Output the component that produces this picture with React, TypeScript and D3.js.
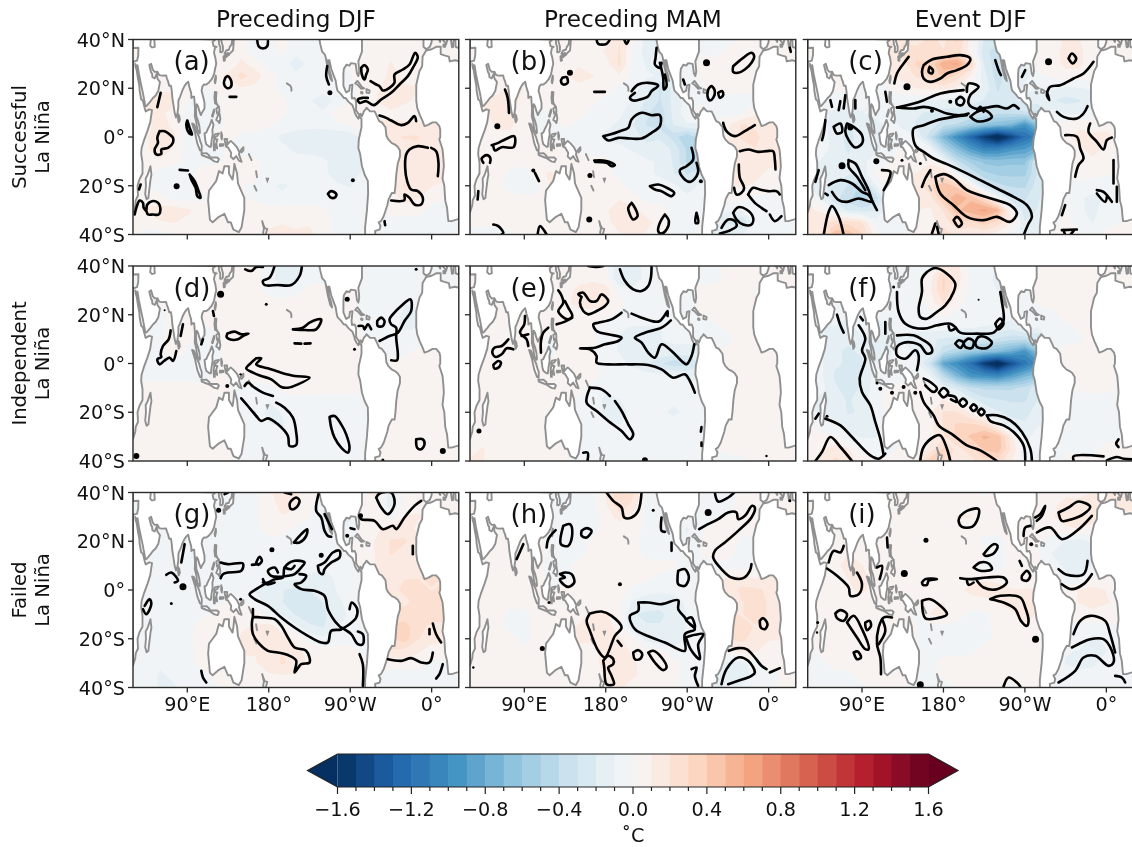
import React from 'react';
import * as d3 from 'd3';

// ---------- anomalies, in hundredths of a degree C; rows 40N..40S every 5 deg, columns 30E..390E every 15 deg; 0 = land / no data
const fieldA = [
[0,0,0,0,0,0,0,0,3,-8,-3,6,-4,-6,0,0,0,0,3,4,2,0,0,0,0],
[0,0,0,0,0,0,0,0,5,-5,-5,2,-6,-5,-3,0,0,2,4,6,4,0,0,0,0],
[0,0,0,0,0,0,0,3,8,4,-3,-5,-8,-6,-3,-1,0,4,5,7,4,0,0,0,0],
[0,0,0,0,0,0,0,8,16,10,3,-2,-6,-5,-3,-2,0,0,4,8,6,0,0,0,0],
[0,0,6,6,0,0,0,3,6,5,2,-2,-3,-4,-4,-3,0,0,6,10,7,0,0,0,0],
[0,0,8,8,0,-4,0,2,4,4,2,1,-2,-6,-10,-5,-2,0,7,12,8,0,0,0,0],
[0,0,7,6,-3,-6,-3,2,3,3,1,1,-2,-5,-6,4,6,3,5,5,4,2,0,0,0],
[0,4,10,5,-4,-6,-2,1,2,2,1,-2,-3,-4,-5,-2,1,0,8,8,8,8,0,0,0],
[0,6,12,8,-3,-5,1,1,-1,-2,-4,-8,-11,-12,-10,-12,-12,0,0,12,14,14,8,0,0],
[0,6,10,6,-3,-6,-3,1,-2,-3,-4,-5,-8,-8,-8,-8,-10,0,0,0,10,12,10,0,0],
[0,4,6,3,-2,-3,-2,1,2,1,-2,-3,-4,-5,-6,-8,-9,-8,0,0,8,10,10,0,0],
[0,0,-4,-6,-4,4,6,0,0,2,-3,-2,-3,-5,-6,-8,-8,-6,0,0,10,8,7,0,0],
[0,0,-3,-6,-5,1,6,0,0,-1,-5,-8,-5,-4,-5,-6,-7,-4,0,0,14,10,7,0,0],
[0,3,2,-2,-3,-2,2,0,0,-1,-3,-5,-3,-3,-3,-4,-5,-3,0,2,10,7,3,0,0],
[0,8,10,10,8,5,3,0,0,3,2,2,2,2,1,-2,-3,-2,0,2,3,3,-3,-3,0],
[0,3,6,7,5,4,3,0,0,3,5,6,5,6,3,-2,-3,-2,0,-2,-3,-3,-3,-3,0],
[0,-3,-3,2,3,3,3,0,0,3,8,10,8,8,4,-2,-3,0,0,-2,-3,-6,-8,-3,0],
];
const fieldB = [
[0,0,0,0,0,0,0,0,6,4,6,14,5,-10,-10,0,0,0,-3,-3,0,0,0,0,0],
[0,0,0,0,0,0,0,0,6,2,8,15,-2,-10,-5,0,0,0,-3,3,2,0,0,0,0],
[0,0,0,0,0,0,0,0,5,2,4,16,-2,-8,-5,-2,0,0,4,5,3,0,0,0,0],
[0,0,0,0,0,0,0,6,12,8,3,6,-2,-6,-8,-3,0,0,4,5,3,0,0,0,0],
[0,0,6,8,0,0,0,4,3,3,2,-2,-3,-12,-22,-12,-5,0,3,3,2,0,0,0,0],
[0,0,8,10,0,3,0,2,3,2,-2,-3,-8,-15,-22,-12,-5,0,-2,-3,-3,0,0,0,0],
[0,0,8,8,4,-2,0,2,3,-2,-3,-6,-10,-20,-26,-12,-2,3,-2,-4,-2,0,0,0,0],
[0,4,8,8,4,-2,-2,1,-2,-4,-6,-8,-14,-22,-25,-14,-8,0,0,6,15,12,0,0,0],
[0,4,6,6,3,3,0,-2,-3,-6,-8,-10,-12,-16,-15,-25,-35,0,0,6,16,18,8,0,0],
[0,3,4,4,2,3,2,0,-2,-4,-4,-5,-8,-12,-12,-15,-30,0,0,0,8,14,10,0,0],
[0,3,2,3,3,3,2,2,4,3,2,-2,-4,-6,-8,-15,-30,-30,0,0,10,14,10,0,0],
[0,0,3,-2,-5,6,8,0,0,1,2,-2,-3,-6,-8,-14,-22,-15,0,0,12,10,5,0,0],
[0,0,3,-4,-5,-3,8,0,0,2,3,2,-3,-6,-5,-6,-10,-6,0,0,8,6,3,0,0],
[0,0,6,3,2,1,4,0,0,3,5,6,2,-2,-3,-4,-6,-4,0,2,3,-2,-2,0,0],
[0,5,6,5,4,3,2,0,0,3,6,12,10,3,3,-2,-5,-2,0,-6,-6,-4,-3,0,0],
[0,3,3,3,3,2,1,0,0,2,4,12,12,10,4,-2,-3,0,0,-15,-22,-5,-3,0,0],
[0,-6,-4,-2,3,3,1,0,0,2,4,6,10,6,1,-3,-3,0,0,-8,-8,-3,-3,-2,0],
];
const fieldC = [
[0,0,0,0,0,0,0,0,12,22,16,30,6,-20,-25,0,0,0,8,10,10,3,0,0,0],
[0,0,0,0,0,0,0,0,25,20,20,25,5,-25,-35,0,0,0,6,12,12,3,0,0,0],
[0,0,0,0,0,0,0,15,30,30,55,60,30,-20,-35,-10,0,0,5,12,12,3,0,0,0],
[0,0,0,0,0,0,0,12,20,30,40,25,8,-15,-35,-18,0,0,1,6,5,0,0,0,0],
[0,0,5,1,-4,0,0,5,10,12,12,8,1,-12,-30,-20,-6,0,-8,-12,-10,0,0,0,0],
[0,0,-8,-8,-5,-10,0,-5,-8,-10,-12,-15,-15,-20,-25,-22,-15,0,-18,-22,-20,0,0,0,0],
[0,0,-10,-12,-10,-5,-8,-14,-18,-20,-22,-22,-25,-28,-35,-35,-30,0,-5,-12,-12,0,0,0,0],
[0,-5,-15,-20,-15,-15,-5,-12,-20,-22,-35,-40,-50,-60,-65,-70,-90,0,0,5,8,5,0,0,0],
[0,-3,-15,-22,-15,-15,0,-5,-8,-35,-70,-95,-120,-145,-165,-140,-115,0,0,0,12,12,10,0,0],
[0,-3,-15,-20,-15,-12,0,3,1,-5,-40,-65,-85,-100,-100,-90,-85,0,0,0,8,12,8,0,0],
[0,0,-15,-18,-12,-5,0,3,5,8,-5,-35,-50,-60,-62,-60,-60,-20,0,0,5,8,5,0,0],
[0,0,-10,-18,-15,1,5,0,10,15,20,-5,-30,-45,-50,-50,-50,-25,0,0,3,3,1,0,0],
[0,0,-20,-30,-40,-10,3,0,0,25,45,35,8,-25,-35,-40,-40,-22,0,0,-3,-5,-5,0,0],
[0,0,-25,-35,-45,-35,-5,0,0,15,40,55,45,25,-5,-25,-30,-20,0,-3,-8,-12,-8,0,0],
[0,8,-10,-20,-25,-20,-5,0,0,8,20,45,55,60,50,1,-25,-18,0,1,-8,-12,-5,0,0],
[0,15,25,25,20,-5,-5,0,0,5,15,25,25,35,25,10,-18,-15,0,5,-5,-10,-3,0,0],
[0,20,45,45,30,5,-5,0,0,10,25,15,10,10,5,-5,-12,0,0,5,1,-5,3,3,0],
];
const fieldD = [
[0,0,0,0,0,0,0,0,2,2,-3,-14,-10,-2,-2,0,0,0,-3,-3,-2,0,0,0,0],
[0,0,0,0,0,0,0,0,2,2,-3,-15,-10,-2,-2,0,0,0,-3,-3,-3,0,0,0,0],
[0,0,0,0,0,0,0,3,3,2,-2,-4,-2,2,2,1,0,0,-3,-3,-4,0,0,0,0],
[0,0,0,0,0,0,0,3,4,3,2,2,2,2,2,2,0,0,-3,-3,-8,0,0,0,0],
[0,0,-2,2,0,0,0,3,4,4,3,3,2,2,2,2,0,0,-3,-4,-10,0,0,0,0],
[0,0,-2,3,0,0,0,3,4,5,4,3,2,2,2,2,2,0,-4,-6,-10,0,0,0,0],
[0,0,-2,5,2,-2,-3,3,4,5,4,2,3,3,2,3,3,0,-3,-6,-5,0,0,0,0],
[0,-2,-2,8,-2,-2,-2,2,3,3,3,3,3,3,5,5,4,0,0,-3,-3,2,0,0,0],
[0,-2,-2,-2,-2,-2,0,1,2,3,6,6,6,7,7,7,3,0,0,3,3,2,2,0,0],
[0,-2,-2,-2,-2,-2,0,0,1,3,7,8,5,5,5,5,2,0,0,0,2,2,2,0,0],
[0,2,2,2,2,2,2,0,-2,-3,-3,3,3,2,2,2,2,0,0,0,2,2,2,0,0],
[0,0,3,5,2,2,3,0,0,-8,-8,-4,-2,-2,-2,-2,-2,0,0,0,2,2,2,0,0],
[0,0,2,2,2,2,3,0,0,-5,-10,-8,-3,-2,-2,-2,-2,-2,0,0,3,3,2,0,0],
[0,0,3,2,2,2,3,0,0,-3,-8,-9,-3,-2,-3,-2,-2,-2,0,0,3,3,2,0,0],
[0,2,3,2,2,2,2,0,0,-2,-3,-7,-3,-2,-3,-3,-2,-2,0,2,3,3,2,0,0],
[0,2,3,2,2,2,2,0,0,-2,-2,-4,-2,-2,-3,-3,-2,0,0,2,3,3,3,0,0],
[0,2,3,2,2,2,2,0,0,-2,-2,-2,-2,-2,-3,-2,-2,0,0,2,3,3,2,2,0],
];
const fieldE = [
[0,0,0,0,0,0,0,0,3,5,2,-15,-15,-3,-2,0,0,0,-2,2,2,0,0,0,0],
[0,0,0,0,0,0,0,0,4,6,2,-15,-15,-3,-2,0,0,0,-2,2,2,0,0,0,0],
[0,0,0,0,0,0,0,4,10,12,12,-3,-5,-3,-2,0,0,0,2,2,2,0,0,0,0],
[0,0,0,0,0,0,0,6,10,12,10,2,-2,-3,-3,-2,0,0,2,2,2,0,0,0,0],
[0,0,2,3,0,0,0,5,5,4,3,-2,-2,-3,-3,-2,0,0,2,2,2,0,0,0,0],
[0,0,2,3,0,3,0,3,3,3,-6,-7,-8,-8,-8,-4,0,0,-2,2,2,0,0,0,0],
[0,0,3,4,2,2,-2,3,3,3,-6,-8,-8,-8,-8,-6,-6,0,-2,-2,2,0,0,0,0],
[0,2,3,3,2,2,-2,2,3,3,-6,-8,-10,-10,-8,-10,-10,0,0,2,3,2,0,0,0],
[0,2,3,3,2,2,0,2,2,2,-3,-5,-10,-14,-22,-28,-26,0,0,2,3,3,2,0,0],
[0,2,3,2,2,2,2,0,2,2,-2,-2,-3,-5,-5,-6,-10,0,0,0,2,3,3,0,0],
[0,2,2,2,2,3,3,0,2,-2,-6,-3,-2,-2,-3,-4,-4,-3,0,0,2,2,2,0,0],
[0,0,2,2,3,3,3,0,0,-2,-10,-8,-3,-2,-4,-6,-5,-3,0,0,2,2,2,0,0],
[0,0,2,2,2,3,3,0,0,-2,-10,-12,-5,-3,-5,-10,-5,-3,0,0,2,2,2,0,0],
[0,0,3,2,2,2,3,0,0,-2,-3,-8,-3,-2,-3,-3,-3,-3,0,0,2,2,2,0,0],
[0,3,3,2,2,2,2,0,0,-2,-2,-3,-2,-2,-3,-3,-2,-2,0,0,2,2,2,0,0],
[0,8,3,2,2,2,2,0,0,-2,-2,-2,-2,-2,-2,-2,-2,0,0,2,2,2,2,0,0],
[0,8,3,2,2,2,2,0,0,-2,-2,-2,-2,-2,-2,-2,-2,0,0,-2,-2,2,2,2,0],
];
const fieldF = [
[0,0,0,0,0,0,0,0,-3,-3,15,12,-3,-5,-10,0,0,0,2,3,2,0,0,0,0],
[0,0,0,0,0,0,0,0,-3,5,30,15,-3,-6,-12,0,0,0,3,3,3,0,0,0,0],
[0,0,0,0,0,0,0,-2,-3,8,30,10,-3,-6,-10,-5,0,0,3,3,3,0,0,0,0],
[0,0,0,0,0,0,0,-2,-4,4,20,3,-3,-4,-5,-5,0,0,2,3,3,0,0,0,0],
[0,0,-5,-8,-3,0,0,-2,-4,-3,3,-2,-3,-4,-4,-5,0,0,-2,3,3,0,0,0,0],
[0,0,-10,-14,-3,-15,0,-3,-5,-5,-5,-8,-8,-10,-12,-15,-5,0,-2,-2,1,0,0,0,0],
[0,0,-15,-18,-12,-18,-15,-10,-15,-18,-20,-22,-22,-25,-30,-35,-35,0,-2,-2,-1,0,0,0,0],
[0,-8,-18,-20,-18,-18,-12,-5,-12,-12,-35,-45,-55,-60,-65,-75,-90,0,0,2,2,2,0,0,0],
[0,-8,-18,-20,-20,-8,0,-2,-8,-30,-80,-95,-115,-145,-165,-135,-110,0,0,0,2,3,2,0,0],
[0,-8,-20,-22,-20,-5,0,0,1,-8,-40,-70,-90,-95,-100,-85,-70,0,0,0,2,3,2,0,0],
[0,-6,-18,-22,-18,-4,1,0,1,1,-12,-22,-35,-40,-40,-40,-35,-20,0,0,1,2,1,0,0],
[0,0,-15,-20,-15,-2,2,0,2,5,10,1,-15,-25,-28,-30,-30,-18,0,0,-2,-2,-2,0,0],
[0,0,-12,-20,-18,-4,2,0,0,8,20,20,8,-8,-18,-22,-22,-15,0,0,-2,-2,-2,0,0],
[0,0,-8,-15,-18,-12,2,0,0,6,20,30,30,25,1,-15,-18,-10,0,0,-2,-2,-2,0,0],
[0,2,1,-8,-10,-10,-2,0,0,6,18,32,40,50,45,12,-12,-6,0,0,-2,-2,-2,0,0],
[0,8,14,10,-3,-5,-2,0,2,12,30,15,25,40,45,18,-6,-6,0,0,-2,-2,2,0,0],
[0,10,22,15,5,2,1,0,10,35,30,10,15,25,25,10,-3,0,0,0,3,2,3,3,0],
];
const fieldG = [
[0,0,0,0,0,0,0,0,-3,-3,6,10,8,3,-3,0,0,0,8,-12,3,5,0,0,0],
[0,0,0,0,0,0,0,0,-5,-2,6,8,8,2,-5,0,0,0,6,-14,3,5,0,0,0],
[0,0,0,0,0,0,0,-3,-5,-2,7,7,5,1,-10,-8,0,0,6,-3,8,8,0,0,0],
[0,0,0,0,0,0,0,-3,-5,-3,3,4,-2,-4,-8,-8,0,0,6,10,12,5,0,0,0],
[0,0,-4,-3,0,0,0,-3,-5,-3,-2,-3,-3,-5,-6,-4,-3,0,8,15,15,0,0,0,0],
[0,0,-4,-3,0,-3,0,-3,-5,-4,-4,-4,-4,-5,-6,-4,3,0,8,15,12,0,0,0,0],
[0,0,-4,-3,-3,-3,-3,-3,-3,-3,-4,-4,-5,-5,-6,-4,-3,0,8,10,12,0,0,0,0],
[0,-3,-3,-3,-3,-3,-3,-3,-3,-3,-4,-5,-5,-8,-10,-6,-5,0,0,10,14,14,0,0,0],
[0,-4,-4,-3,-3,-3,0,-2,-3,-8,-12,-14,-16,-14,-12,-7,-5,0,0,12,16,18,14,0,0],
[0,-4,-4,-4,-3,-3,0,0,1,-3,-10,-14,-20,-20,-14,-8,-6,0,0,0,12,18,18,0,0],
[0,-4,-4,-4,-3,-3,3,0,3,3,-2,-8,-15,-18,-16,-10,-6,-5,0,0,18,16,18,0,0],
[0,0,-5,-5,-3,3,3,0,0,8,10,4,-5,-13,-15,-8,-5,-4,0,0,24,18,12,0,0],
[0,0,-4,-3,-2,3,3,0,0,10,12,10,5,-3,-5,-3,-3,-2,0,0,25,15,10,0,0],
[0,0,-4,-3,-2,2,2,0,0,8,12,14,10,4,3,2,3,-2,0,0,12,8,4,0,0],
[0,-4,-6,-5,-3,2,2,0,0,6,12,15,12,6,6,5,4,3,0,0,4,4,-2,0,0],
[0,-4,-8,-6,-3,-3,2,0,0,3,6,7,6,7,6,5,4,3,0,-3,-3,-3,-3,0,0],
[0,-4,-8,-8,-4,-4,-2,0,0,3,5,6,6,6,5,4,4,0,0,-3,-3,-3,-3,-3,0],
];
const fieldH = [
[0,0,0,0,0,0,0,0,-3,-2,8,20,16,-2,-2,0,0,0,-3,-6,3,3,0,0,0],
[0,0,0,0,0,0,0,0,-4,-3,6,20,12,-2,-2,0,0,0,-3,-5,4,3,0,0,0],
[0,0,0,0,0,0,0,-4,-6,-4,3,10,5,-2,-2,-2,0,0,-3,3,5,3,0,0,0],
[0,0,0,0,0,0,0,-4,-7,-4,3,3,3,-2,-3,-3,-8,0,3,6,3,0,0,0,0],
[0,0,3,3,0,0,0,-3,-3,2,2,3,2,-2,-3,-3,-6,0,6,8,-3,0,0,0,0],
[0,0,3,3,0,2,0,-2,-2,2,2,3,2,-2,-2,-3,-2,0,8,3,-3,0,0,0,0],
[0,0,3,2,2,2,-2,-2,2,2,3,3,2,2,2,2,-4,0,-2,-3,-4,0,0,0,0],
[0,2,2,2,2,2,-2,-3,2,2,3,3,3,2,-2,-3,-6,0,0,8,10,6,0,0,0],
[0,2,2,2,2,2,0,2,2,3,3,3,-2,-4,-5,-4,-5,0,0,10,16,16,0,0,0],
[0,3,2,2,2,2,0,0,2,3,3,2,-8,-12,-13,-12,-5,0,0,0,14,16,14,0,0],
[0,3,2,-2,-2,3,3,0,3,10,8,3,-14,-15,-15,-13,-7,-3,0,0,14,16,14,0,0],
[0,0,2,-2,-3,3,3,0,0,12,10,4,-14,-14,-14,-14,-6,-3,0,0,16,14,10,0,0],
[0,0,2,2,-3,3,3,0,0,8,10,8,3,-10,-14,-12,-6,-3,0,0,16,12,8,0,0],
[0,0,2,2,2,2,2,0,0,5,10,10,6,3,3,-5,-3,-3,0,0,10,8,4,0,0],
[0,2,2,2,2,2,2,0,0,4,10,10,8,5,3,3,-3,-3,0,-8,-10,-3,2,0,0],
[0,2,2,2,2,2,2,0,0,3,8,10,8,5,3,2,-3,0,0,-12,-14,-3,-2,0,0],
[0,2,2,2,2,2,2,0,0,3,6,8,5,3,2,2,-3,0,0,-6,-6,-2,-2,2,0],
];
const fieldI = [
[0,0,0,0,0,0,0,0,2,3,4,4,5,-2,3,0,0,0,5,6,4,0,0,0,0],
[0,0,0,0,0,0,0,0,3,3,5,6,6,2,3,0,0,0,6,10,12,0,0,0,0],
[0,0,0,0,0,0,0,2,4,4,5,8,8,3,3,2,0,0,6,15,15,0,0,0,0],
[0,0,0,0,0,0,0,2,6,3,3,6,4,2,3,2,3,0,4,5,8,0,0,0,0],
[0,0,2,6,0,0,0,2,3,3,3,3,3,-2,-3,2,3,0,-3,-8,-12,0,0,0,0],
[0,0,3,8,2,3,0,2,3,3,2,3,3,3,-3,2,5,0,-8,-14,-12,0,0,0,0],
[0,0,6,10,8,3,3,2,3,3,3,3,3,-5,-6,3,5,0,-3,-10,-10,0,0,0,0],
[0,3,5,8,10,5,3,2,3,3,3,3,5,6,6,5,5,0,0,-5,-8,2,0,0,0],
[0,3,4,6,10,3,2,2,3,3,5,5,10,12,10,8,8,0,0,5,8,10,0,0,0],
[0,3,3,3,3,3,0,0,3,5,8,3,4,5,8,14,12,0,0,0,8,10,8,0,0],
[0,3,3,4,4,3,3,0,-2,8,10,3,-2,-2,3,5,14,5,0,0,3,6,6,0,0],
[0,0,3,6,6,3,5,0,0,-2,-2,-2,-2,-2,2,4,8,5,0,0,-2,-3,-3,0,0],
[0,0,2,3,5,3,4,0,0,-2,-3,-2,-2,-3,2,3,5,5,0,0,-3,-10,-5,0,0],
[0,0,3,3,4,3,3,0,0,-2,-2,-2,-2,3,3,3,3,3,0,0,-8,-15,-8,0,0],
[0,-2,3,3,3,3,3,0,0,-2,2,3,3,3,3,3,3,3,0,-8,-10,-10,-3,0,0],
[0,-3,-2,-2,3,3,3,0,0,-3,2,3,3,3,3,3,3,3,0,-5,-5,-3,-3,0,0],
[0,-3,-3,-6,-2,3,3,0,0,-8,-8,2,2,3,3,-3,3,0,0,-3,-2,-2,-3,-3,0],
];
// correction to my first colour reading of each panel, from comparing shades with the reference
const fieldReadingGain = [1.5, 1.4, 1.05, 1.2, 1.3, 1.05, 1.4, 1.4, 1.3];

// ---------- significance contours, traced on a map grid where 15..993 spans 30E..390E and 15..600 spans 40N..40S; flat x,y lists
const contoursA = [
[388,18,392,35,405,42,418,35,420,20],[292,130,300,125,310,140,308,158,296,160,288,148,292,130],[305,187,325,187],[598,95,595,125,603,150],[98,175,88,218],
[95,290,110,290,125,300,135,310,135,325,120,340,100,345,100,358,85,360,80,345,90,325,88,310,95,290],[178,258,185,280,192,300,183,295,175,270,178,258],[155,406,180,408],
[185,420,200,440,212,470,218,490,208,485,203,460,190,435,185,420],[38,450,33,465],[20,540,25,520,35,498,45,505,47,520,55,530,60,540,75,540,92,540,97,520,90,505,72,500,58,510,55,530],
[700,100,710,92,720,105,715,120,710,135,702,120,700,100],[728,140,745,150,755,155,765,168,785,160,800,145,800,120,825,105,845,90,862,55,870,68,855,100,840,125,815,150,790,175,760,195,738,212,715,200,695,205,690,195,705,190,720,190],
[755,243,775,250,790,258,820,272,840,265,860,245,865,260],[930,425,932,385,925,350,910,340],[900,340,870,335,845,345,835,360,832,400,838,440,850,465,870,470,885,490,880,510,860,510,845,490,830,480,830,497,790,498],
[600,478,610,470,625,478,622,488,610,490,600,478],[770,560,772,572],
];
const dotsA = [[606,175,2.5],[146,455,3],[675,437,2]];
const contoursB = [
[395,15,400,28,425,28,435,15],[478,15,485,28,492,15],[575,40,572,70,570,90,585,100,590,85],[585,85,595,130,597,165,605,155,600,120],[292,130,305,128,308,145,295,150,288,140,292,130],[388,172,420,172],[120,165,128,190,132,235],
[80,332,100,325,120,315,148,305,146,338,110,338,90,348,85,335],[55,385,50,372,65,362,76,370,75,385],[40,470,38,495],[210,415,222,440],
[500,170,520,150,550,145,580,153,560,170,550,185,525,195,505,198,495,190,510,175],[415,305,435,300,465,290,490,280,500,255,530,235,560,242,585,242,585,275,560,295,530,312,495,312,460,310,430,318,415,305],
[388,378,415,378,432,382,450,392,440,395,425,385,390,382],[555,455,580,450,610,462,628,475,620,485,590,470,570,465,555,455],[500,505,510,520,518,545,505,555,495,540,490,520,500,505],[600,540,612,560,605,585,590,597,580,590,585,565,600,540],[695,535,700,565,692,565,695,535],
[85,570,100,575,115,595,110,600],[218,600,225,575,245,600],[680,340,685,375,665,395,645,407,655,430,675,442,695,425,700,410,695,385],[655,135,660,150],
[805,95,835,70,860,55,868,65,860,85,840,105,820,115,805,112,805,95],[730,165,740,155,750,170,745,190,735,198,728,185,730,165],[760,175,772,170,775,182,765,190,760,175],[775,265,785,290,810,305,840,290,870,272],[825,350,850,345,880,352,905,350,925,350,930,375,932,405],
[822,390,825,430,838,460,830,475,815,480,808,460],[850,480,865,460,885,465,910,470,935,470,945,480],[850,480,870,505,890,520,905,530],[915,540,930,560,950,545],[805,535,820,518,845,525,865,550,860,570,835,570,815,555,805,535],[770,580,790,555,810,560,815,575,790,590,765,597],[975,40,978,52],
];
const dotsB = [[315,115,3],[97,275,3],[205,408,2],[375,423,2.5],[373,555,3],[708,440,2],[725,85,3.5]];
const contoursC = [
[530,285,490,290,440,300,400,315,370,325,368,350,378,380,400,395,430,415,470,432,520,455,570,480,620,505,670,530,710,555,725,590,715,610,700,645],
[435,470,450,520,490,555,530,590,580,600,620,590,660,605,680,580,660,555,620,540,570,525,530,510,490,475,460,462,435,470],[395,500,405,475,420,450],
[400,135,425,118,470,110,510,105,540,115,530,135,500,150,470,160,450,175,420,185,400,175,395,155,400,135],[418,140,428,150,425,160,415,155,418,140],
[355,110,340,130,320,160,312,190],[285,215,290,245],[320,262,370,250,400,240,450,220,520,210],[320,262,370,265,400,260,430,265,470,280,510,285,535,280],
[530,215,535,190,565,200,540,225,535,250,555,265,590,262,620,258,650,265,670,255,685,265],[540,290,560,275,585,270,605,290,590,300,560,303,540,290],[560,275,570,260,580,275],[498,240,510,230,522,240,515,255,500,252,498,240],
[615,120,625,150,632,165],[835,115,845,100,858,115,848,130,835,115],[705,150,695,170],[910,125,880,160,850,175,810,195,780,200,770,225,778,240,770,215],[800,275,820,290,860,295,880,280,892,258],
[900,310,895,335,920,365,940,388,950,360,965,352],[825,345,860,350,870,385,880,415,865,435,855,470],[970,420,970,490],[920,510,940,515,965,545],[950,530,945,545,920,520],[980,500,980,545],[825,555,815,585],[815,630,860,628],[820,630,825,645],[850,632,840,645],
[105,300,100,340,95,360],[130,320,150,310,155,335,140,340,130,320],[170,310,190,320,215,345,215,370,195,382,175,360,165,335,170,310],[150,243,145,270],[120,240,125,260],[165,225,160,265],[195,240,195,265],[85,450,75,485],[105,520,112,525],
[175,420,195,430,215,470,235,510,245,540,260,570],[175,420,175,440,200,470,225,510],[115,495,150,480,185,490,215,515,235,525,245,545,205,535,170,545,145,540,125,515],[275,450,300,455,295,480,280,510],
[100,645,115,575,125,558,145,590,160,645],[490,600,500,590,515,610,505,620,490,600],[425,640,435,610],[445,640,440,620],
];
const dotsC = [[350,200,3.5],[480,245,2],[425,272,2],[775,125,3.5],[180,322,3],[155,437,3.5],[258,423,3],[335,420,1.5],[390,430,1.5]];
const contoursD = [
[352,25,370,30,385,18,405,18],[440,15,425,50,405,60,410,72,450,72,490,72,515,45,522,15],[165,190,158,225],[225,235,220,250],[255,150,258,165],
[128,208,122,235,105,255,98,280,100,288,88,295,95,310,108,300,125,290,135,300,145,270],[298,218,320,212,340,220,362,218,345,225,330,235,305,235,296,228,298,218],[495,205,525,200,545,185,570,175,580,175,565,205,530,207,495,205],[500,247,520,248],[530,248,548,247],
[385,292,400,292,385,310,420,322,460,335,500,345,545,350,510,370,480,380,460,378,430,355,400,345,375,335,355,322,370,305,385,292],[350,375,360,365,380,380,405,395,435,405],
[340,412,360,435,385,465,400,480,420,472,450,490,480,525,485,555,505,552,505,515,495,470,470,440,445,425],[605,468,620,465,640,490,655,520,665,560,660,575,640,560,620,530,610,500,605,468],
[692,195,705,195,710,205,720,190,730,205],[748,180,760,170,770,180,765,195,750,195,748,180],[755,240,785,225,810,215,830,180,850,150,848,115,820,135,795,160,785,175,790,190,805,200,805,230,810,280,808,298,790,298],[865,535,885,535,890,550,880,565,868,560,865,535],
];
const dotsD = [[278,100,3.5],[415,130,1.5],[110,148,1],[865,25,1.5],[658,115,2.5],[945,570,3],[25,585,3],[680,265,1.5],[765,597,1.5],[298,375,2],[338,340,1.2]];
const contoursE = [
[370,15,395,18,415,15],[465,25,480,60,505,85,530,90,550,75,558,50,560,15],[280,88,288,100,295,125,280,150,290,165,310,175,322,165,310,140,300,120],[275,190,300,182,322,170],
[350,108,340,100,355,95,375,120,395,120,410,100,430,120,420,135,395,150,370,160,355,150,345,125,350,108],
[470,155,440,175,400,185,385,190,395,210,430,220,470,230,460,240,420,250,390,260,345,262,375,265,395,285,395,305,430,310,490,310,550,312,590,325,625,350,660,340,675,360,690,395],
[500,158,530,170,570,182,585,180,598,165,608,150,608,165],[618,178,590,200,540,215,510,230,530,245,550,275,570,290,590,250,620,270,650,300,665,310,680,285,688,250],
[180,165,178,190,165,215,185,235,190,255],[170,225,190,220],[250,200,235,215,228,240,228,275],[130,235,110,255,88,260,82,275,92,288,110,280,125,262,145,265],[85,312,100,300,108,305,100,320,88,322,85,312],
[375,380,410,385,435,405],[450,420,470,450,490,490,505,520,495,535,470,510,430,480,395,450,365,425,375,380],[355,575,368,575,368,598],[710,498,708,512],[710,545,710,555],
];
const dotsE = [[42,510,2.5],[540,598,3],[905,585,1.2]];
const contoursF = [
[410,50,435,38,470,55,495,85,490,110,465,150,440,170,410,190,390,185,385,160,395,110,395,70,410,50],[320,110,325,170,345,205,400,220,440,210,480,205,495,218,480,225,475,212],
[495,215,510,232,560,235,610,232,625,215,640,195,635,140,630,110],[615,205,630,190,640,205,625,222,615,205],[320,240,370,240,400,255,420,270,425,290,410,295,390,270,370,262,340,262,320,275,320,300,345,310,375,285,385,300,380,345],
[495,265,505,255,520,262,510,278,495,265],[520,262,535,250,550,258,545,278,525,275,520,262],[555,262,565,245,585,245,605,262,590,278,560,275,555,262],
[400,370,420,380,440,400,430,410,405,390],[446,412,460,398,474,412,460,426,446,412],[475,420,495,425,500,440,482,432],[506,442,518,430,530,442,518,454,506,442],[540,457,550,447,560,457,550,467,540,457],[563,470,573,460,583,470,573,480,563,470],
[590,480,620,480,660,495,695,530,720,580,725,615],[590,480,600,497,640,510,670,530,700,570,705,615],[390,410,400,440,430,480,445,510,490,540,530,570,570,585,620,617],[390,615,400,575,430,545,450,540,470,580,480,617],[75,617,95,590,120,545,150,575,185,617],
[140,178,150,210,160,232],[210,185,218,195],[205,210,225,250,215,285,225,310,208,370,215,410,240,450,255,500,270,550,280,600],[105,490,150,510,185,545,240,600,265,610,285,595],[285,200,285,235],[85,475,75,490],
[850,615,850,603,940,603],[950,615,980,605,1000,610,1026,612],[985,552,978,565,985,575],
];
const dotsF = [[260,383,1.5],[270,400,2],[305,412,2],[340,395,2],[375,412,2],[110,483,1.5],[310,95,1.5],[565,133,1]];
const contoursG = [
[290,20,300,15],[470,15,490,20],[490,40,505,30,515,40,505,60,490,65,485,50,490,40],[572,20,565,70,580,90,590,130,600,145,610,148],[590,80,612,125],[498,165,520,140,538,125,535,145,515,165,498,165],
[695,85,700,95,740,100,765,125,795,115,805,125,830,90,860,55,880,40],[745,30,755,18,790,15,800,50,780,80,760,60,745,30],[668,122,680,125],[372,232,390,230],[385,225,395,208,402,220,392,232],
[278,225,300,230,345,228,340,250,300,255,285,260,278,272],[570,235,590,225,615,195,635,190,635,210,610,225,590,245,585,260,575,255,570,235],
[405,285,420,285,440,275,465,270,470,240,500,220,530,225,520,240,500,260,480,265,455,268,430,265,420,250,440,240,450,255],[470,240,490,245,500,235],[405,275,415,290,440,285],
[515,260,535,265,520,285,500,290,520,305,560,310,590,325,600,365,620,400,640,425,610,430,600,465,580,465,540,445,500,420,460,390,420,355,380,335,365,320,385,305,410,290],[640,425,665,410,685,390,688,365,672,345,665,365],
[375,388,400,390,440,395,460,415,480,450,500,480,535,490,545,525,520,530,500,555,505,520,485,505,450,495,420,490,395,470,375,440,372,405,375,388],[375,385,375,365],[640,420,670,440,690,470,705,470,705,440,690,432],[695,500,705,530,705,595],
[50,355,65,335,70,350,55,380,45,365],[115,262,130,255,150,280,140,285],[170,170,160,225],[905,425,905,440],[915,408,925,440,940,465],[855,175,855,200],[780,515,820,520,850,512,880,525,905,525,915,495],[945,530,935,560,925,573],[220,550,225,570,235,585],
];
const dotsG = [[698,85,2.5],[658,145,2],[432,187,2.5],[580,203,2.5],[272,68,2.5],[165,298,3.5],[130,348,1.5],[338,335,1.5]];
const contoursH = [
[425,15,445,40,470,60,478,90,500,90,520,70,530,15],[750,15,760,42,790,30,808,15],[703,125,720,115,760,95,790,75,815,75,820,95,840,85,862,55,870,60,860,90,820,130,780,165,750,190,745,210,770,245,800,270,835,272,855,250,860,230],
[590,90,590,130,600,133],[620,165,620,190],[155,215,175,170],[272,128,250,155,245,180],[295,115,315,110,322,140,310,175,288,170,295,115],[350,130,365,122,380,130,365,150,350,145,350,130],[285,260,300,255,320,260,328,285,310,298,295,290,285,275,300,270,285,260],
[640,250,660,245,672,270,660,295,640,290,638,270,640,250],[520,345,550,345,590,350,640,338,640,365,660,390,665,400,690,425,660,440,660,490,600,465,560,450,510,425,495,385,520,370,520,345],
[665,395,680,390,690,420,675,410],[662,450,690,442,715,440,700,470,705,515,680,490,665,455],[375,378,410,372,440,385,470,420,450,445,420,510,400,490,375,430,365,400,375,378],[458,460,470,475],[505,495,520,488,532,500,525,515,510,515,505,495],
[550,495,565,490,590,510,605,540,595,548,570,525,550,495],[415,520,430,505,445,515,445,530,430,540,440,565,447,590,425,590,418,540,415,520],[680,545,695,540,690,565,700,595],[792,490,820,482,845,485,870,510,890,535,905,545],[915,555,945,542],
[770,590,785,545,820,510,850,520,870,555,860,565,820,580,790,590],[885,400,895,392,908,410,900,425,888,420,885,400],
];
const dotsH = [[730,75,3.5],[565,68,1.5],[465,290,2],[252,345,1.5],[232,483,2.5],[25,540,1.2],[975,40,1.5]];
const contoursI = [
[490,85,510,70,545,65,540,100,525,118,495,118,485,100,490,85],[715,90,730,80,745,55,735,85,720,100],[785,75,815,60,845,42,880,58,860,80,825,95,795,100,785,75],[720,135,760,120,795,155,840,130,885,85],[680,145,685,120,700,115],
[560,200,590,170,602,175,590,198,565,205,560,200],[530,240,550,225,575,228,585,245,550,250,530,240],[490,272,520,275,570,270,620,270,630,285,600,305,560,300,540,280],[510,280,515,292,530,285],[375,285,385,275,420,275,395,280,390,292,378,292,375,285],
[675,265,690,250,700,265,690,280,675,275,675,265],[668,220,675,235],[580,335,610,325,670,330,685,360,695,400,690,415,672,400,655,365,620,345,580,335],[785,245,810,262,860,260,872,220],[795,290,825,305,860,290,885,260],
[270,150,272,180],[240,240,255,235,248,275],[95,225,110,190,130,195,140,175],[90,243,120,265,155,300,160,325,185,320,195,290,180,255],[115,378,130,368,150,380,140,400,120,392,115,378],[150,405,170,385,195,425,215,485,205,485,180,450,150,405],
[205,405,218,400,222,415,210,428,205,415,205,405],[170,495,182,492,192,510,180,515,170,495],[285,390,260,390,245,420,240,470,250,510,252,560],[255,395,265,430,245,470],[375,340,400,335,450,380,420,392,385,392,375,340],
[830,440,850,400,880,385,925,400,940,440,955,495],[825,480,855,465,880,455,920,455,945,490,950,525,935,535,895,505,860,510,835,550,785,585],[620,597,635,570,660,585,670,597],[955,565,975,570,985,585],
];
const dotsI = [[703,170,2],[387,158,2.5],[322,258,3.5],[716,455,3.5],[62,405,1.5],[60,435,1.2],[370,592,3.5]];

// ---------- coastlines, lon/lat pairs (lon 30..390)
const landPolygons = [
[30,36.5,36,36.6,35.8,33.5,34.5,31.3,32,31,30,31,30,-31,32.5,-28,33,-26,35.5,-24,35,-20,37,-17.5,40.5,-15,40.5,-10.5,39,-7,39.5,-4.5,42,-1.5,46,2.5,49,6,51,11,48,11.3,44,10.5,43,11.8,41,14.8,39,15.5,37.3,19,37,21,35.5,24,34,27.5,33,28.5,32.5,30,34.5,28,35,29.5,36.5,26,39,21.5,41,18,43,14,43.5,12.7,45,12.8,49,14.5,52,16,55,17,58,19,59.8,22.5,57,24,56.3,26,54,24,51.5,24.5,51,26,50,26.5,48,29.5,50,30,52,27.5,54,26.7,57,26.8,59,25.4,62,25.2,66.5,25.3,67.5,24,69,22.5,70,21,72,21,72.8,19,73.5,16,74.8,13,76,10,77.5,8,79,9.5,80,12,80.2,15,82,16.5,85,19.5,87,21,89,22,91,22.7,92.3,20.5,94.3,18,94.5,16,96,16.5,97.6,16.5,98.5,12,98.3,8.5,100,6,101,3,103.5,1.5,104,2,103.3,4.5,102,6.5,100,8.5,99.5,11.5,100.5,13.5,102,12.5,103,11,105,9,106.7,10.3,109,11.7,109,14,107.5,16.5,105.8,19,106.7,20.7,108.5,21.6,111,21.5,114,22.4,117,23.7,119.5,25.7,121,28.5,122,30,121,32.5,119.5,34.5,120.5,36.5,122.5,37,119,37.3,118,39,121,40,30,41],
[124.5,41,125.2,38,126.5,37,126.3,34.8,127.5,34.7,129.3,35.3,129.4,37,127.5,39.5,129,41],
[79.8,9.5,81.2,8.5,81.8,7,80.5,6,79.8,7.5],
[49.3,-12,50.4,-15.5,49.5,-17,47.5,-23,47,-25,45,-25.5,43.5,-23.5,44.3,-20,44,-17,46,-15.7,48,-13.5],
[95.3,5.6,97.5,5.2,100,2.5,103,0,104.5,-2,106,-3.5,105.8,-5.8,104,-5.5,101,-2.5,98.7,1.5],
[105.5,-6.5,108.5,-6.7,111,-6.6,114.5,-7.7,114.5,-8.7,110,-8,106,-7.4],
[115,-8.4,119,-8.4,123,-8.4,125,-9,123.5,-10.3,120,-10,116,-9],
[109,1.5,111,1.8,113,3.5,115,5,117,7,119,5,117.7,3,118,1,117,-1,116,-4,114.5,-4,111,-3,110,-1.5],
[119.5,0.5,121,1.2,125,1.5,123,0.4,120.5,0,121.5,-1,123.3,-1,122,-2.5,123,-4.7,121.5,-4,120.5,-3,120.4,-5.5,119.5,-5.5,119,-3,119.8,-1],
[120.5,18.5,122.2,18.4,121.7,16,122,14.2,124,12.7,122.5,13.5,120.7,13.8,120,16],
[122,7,123.5,8.5,125.5,9.8,126.5,7.5,125.5,5.7,124,6.5],[122,11.7,125,12.5,125.5,10.5,123,9.5],[117.2,8.5,119.5,11.3,119.7,10.5,118,8.3],
[127.5,2,128.5,0.5,128,-1,127.5,0],[126,-3,130,-3,130,-3.5,126,-3.7],
[131,-0.8,134,-0.8,134,-3.3,136,-2.3,138,-1.6,141,-2.6,145,-4.3,147.8,-6.5,147,-7,150,-10.2,147,-9.7,144,-7.8,141,-9.1,138,-8,138.5,-6.5,135,-4.3,133,-4,132,-2.5],
[148.5,-5.7,152,-4.2,152,-5.5,150,-6.3],
[114,-22,113,-26,115,-34,118,-35,124,-33,131,-31.5,135,-35,138,-35,141,-38,147,-39,150,-37,153,-30,153,-25,146,-19,145,-15,142,-11,141,-15,140,-17.5,136,-15,136,-12,131,-12,129,-15,125,-14,122,-18,117,-20.5],
[120.2,23,121.5,25.2,121.7,24,120.8,22],
[130,33,131.5,33.5,131.5,31.4,130.3,31.3],[132.5,33.3,134.5,34.2,134.2,33.3,133,32.8],
[131,34.2,133,35.5,136,35.8,137,37,139,38,140,41,141.5,41,141,37.5,140.5,35.5,138,34.7,135.5,33.5,135,34.5,132.5,34],
[172.7,-34.5,174.5,-36.5,176,-37.5,178.3,-37.7,177,-39.5,175.5,-41,173.8,-39.3,174.7,-37.5],
[235.5,41,237,38,239,35,242,33.8,243,32.5,245.3,28,248,24,250,23,249,25,246.5,28,245.5,31.5,247,31.5,249,28,251,26,254,23,255,20.5,256,19,260,17.5,263,16,265,16,268,14.5,272.5,13,274.5,11,275,10,277,8.5,279,7.5,280,9,281,8,282.5,7.5,282.5,4,281,1.5,279.5,-1,279,-4.5,281,-7,283,-12,286,-15.5,289.5,-18,289.8,-23,288.5,-30,286.5,-37,286.5,-41,298,-41,297.5,-38.5,302.5,-38,303.5,-36.5,301.5,-35,304,-34.5,307,-32.5,311,-28,312.5,-25.5,316,-23,319,-23,320,-20,321,-15,322.5,-11,325,-8,325,-5.5,322.5,-4,319,-3,316,-2.5,312,-1,310,0.5,309,4,305,6,302,6.5,299,9,297,10.5,292,10.5,288,12,287,11.3,285,10.5,283,8.5,281.5,9.5,279.5,9.2,278,10,276.5,11,276.5,14.5,275,16,272,15.8,271.5,17.5,272.5,21.5,269.7,21.2,269,19,265.5,18.3,262.5,21,262.5,26,263,28,266,29.7,269,29.3,271,30.3,276,30,277.5,26,279,25,280,27,279,31,283,35,283,41],
[275.5,22,278,23,283,20.5,285.5,20,282,19.8,278,21.5],[288,19.7,291.5,19,291,18,288,18.2],[282,18.5,283.5,18.4,283.5,17.8,282,18],
[391,31,386,31.5,380,31,379,33,374,33.5,370,34,370,37,365,37,360,36,354,35.5,350,33,349.5,29,346.5,27,343,21.5,343,15,344,12,347,9,350,6.5,352,4.5,356,5,361,6,365,6,368.5,4.5,369.5,3,369.5,0,368.5,-1,372,-5,373,-9,373.5,-12,372,-17,374,-20,375,-26,377,-29,378,-33,378.5,-34.5,382,-34.5,391,-33.5],
[351,41,351,37,354,36,358,37,360,39,360,41],[368,40,369.5,39,369.5,41],[372,40,375.5,38.5,376,38,377,39.5,378.5,41],[373,38,375,38,375,37,373,37],[381,41,382,38,382.5,36.8,384,37,384,39,385.5,41],[386,41,386.5,37,390,36.5,391,41],
];
const coastLines = [
[50,41,49,37.5,51,36.7,54,37,53.5,41],
[200,22,202,21.5,204,21,205,20,205,19],[166,-14,167,-16.5],[177.5,-17,178.5,-18,179.5,-17],[164,-20,166.5,-22],[158,-7,161,-9.5],
];

// ---------- axes and labels
const columnTitles = ['Preceding DJF', 'Preceding MAM', 'Event DJF'];
const rowTitles = [['Successful', 'La Niña'], ['Independent', 'La Niña'], ['Failed', 'La Niña']];
const panelLetters = ['(a)', '(b)', '(c)', '(d)', '(e)', '(f)', '(g)', '(h)', '(i)'];
const lonTicks = [[90, '90°E'], [180, '180°'], [270, '90°W'], [360, '0°']] as [number, string][];
const latTicks = [[40, '40°N'], [20, '20°N'], [0, '0°'], [-20, '20°S'], [-40, '40°S']] as [number, string][];
const colorAnchors = ['#053061', '#2166ac', '#4393c3', '#92c5de', '#d1e5f0', '#f7f7f7', '#fddbc7', '#f4a582', '#d6604d', '#b2182b', '#67001f'];
const barMajorTicks = [-1.6, -1.2, -0.8, -0.4, 0, 0.4, 0.8, 1.2, 1.6];

const fields = [fieldA, fieldB, fieldC, fieldD, fieldE, fieldF, fieldG, fieldH, fieldI];
const contourSets = [contoursA, contoursB, contoursC, contoursD, contoursE, contoursF, contoursG, contoursH, contoursI];
const dotSets = [dotsA, dotsB, dotsC, dotsD, dotsE, dotsF, dotsG, dotsH, dotsI];
const traceShifts = [[0, 0], [0, 0], [37, 43], [0, 0], [0, 0], [37, 17], [0, 0], [0, 0], [17, 0]];

const FONT = "'DejaVu Sans', sans-serif";
const panelLefts = [133, 470, 807.7];
const panelTops = [39.5, 266, 492.5];
const PW = 325.8, PH = 195;
const TICK_FS = 19.2;

const colorOf = d3.scaleLinear<string>().domain(d3.range(11).map(i => -160 + i * 32)).range(colorAnchors).interpolate(d3.interpolateRgb);
const thresholds = d3.range(-160, 161, 10);
const binColor = (t: number) => (t >= 160 ? '#67001f' : colorOf(t + 5));

const traceLon = d3.scaleLinear().domain([15, 993]).range([30, 390]);
const traceLat = d3.scaleLinear().domain([15, 600]).range([40, -40]);

function pairs(a: number[]) {
  const out: [number, number][] = [];
  for (let i = 0; i + 1 < a.length; i += 2) out.push([a[i], a[i + 1]]);
  return out;
}

// land cells (0) take the mean of neighbouring sea cells so colours run up to the coast; padded one cell all round
function prepared(grid: number[][], gain: number) {
  const g = grid.map(r => r.map(v => v * gain));
  const ny = g.length, nx = g[0].length;
  for (let pass = 0; pass < 12; pass++) {
    const copy = g.map(r => r.slice());
    for (let j = 0; j < ny; j++) for (let i = 0; i < nx; i++) {
      if (copy[j][i] !== 0) continue;
      const near: number[] = [];
      for (let b = -1; b <= 1; b++) for (let a = -1; a <= 1; a++) {
        const v = copy[j + b]?.[i + a];
        if (v) near.push(v);
      }
      if (near.length) g[j][i] = d3.mean(near) as number || 0.5;
    }
  }
  const W = nx + 2, H = ny + 2;
  const flat = new Array(W * H);
  for (let j = 0; j < H; j++) for (let i = 0; i < W; i++) {
    flat[j * W + i] = g[Math.min(ny - 1, Math.max(0, j - 1))][Math.min(nx - 1, Math.max(0, i - 1))];
  }
  return { flat, W, H };
}

function Panel({ idx }: { idx: number }) {
  const col = idx % 3, row = Math.floor(idx / 3);
  const left = panelLefts[col], top = panelTops[row];
  const sx = d3.scaleLinear().domain([30, 390]).range([left, left + PW]);
  const sy = d3.scaleLinear().domain([40, -40]).range([top, top + PH]);
  const { flat, W, H } = prepared(fields[idx], fieldReadingGain[idx]);
  const filled = d3.contours().size([W, H]).thresholds(thresholds)(flat);
  const geo = d3.geoPath(d3.geoTransform({
    point(x: number, y: number) {
      // @ts-ignore
      this.stream.point(sx(30 + (x - 1.5) * 15), sy(40 - (y - 1.5) * 5));
    },
  }));
  const lonLat = d3.line<[number, number]>().x(d => sx(d[0])).y(d => sy(d[1]));
  const [dx, dy] = traceShifts[idx];
  const tx = (u: number) => sx(traceLon(u - dx));
  const ty = (v: number) => sy(traceLat(v - dy));
  const trace = d3.line<[number, number]>().x(d => tx(d[0])).y(d => ty(d[1])).curve(d3.curveCatmullRom.alpha(0.5));
  const clip = `clip${idx}`;
  const tickColor = '#2a2a2a';
  return (
    <g>
      <clipPath id={clip}><rect x={left} y={top} width={PW} height={PH} /></clipPath>
      <g clipPath={`url(#${clip})`}>
        <rect x={left} y={top} width={PW} height={PH} fill={colorAnchors[0]} />
        {filled.map((c, k) => <path key={k} d={geo(c as any) || ''} fill={binColor(c.value)} />)}
        {landPolygons.map((p, k) => (
          <path key={k} d={(lonLat(pairs(p)) || '') + 'Z'} fill="#ffffff" stroke="#8f8f8f" strokeWidth={1.9} strokeLinejoin="round" />
        ))}
        {coastLines.map((p, k) => (
          <path key={k} d={lonLat(pairs(p)) || ''} fill="none" stroke="#8f8f8f" strokeWidth={1.9} strokeLinecap="round" />
        ))}
        {contourSets[idx].map((p, k) => (
          <path key={k} d={trace(pairs(p)) || ''} fill="none" stroke="#000" strokeWidth={2.6} strokeLinejoin="round" strokeLinecap="round" />
        ))}
        {dotSets[idx].map((d, k) => <circle key={k} cx={tx(d[0])} cy={ty(d[1])} r={d[2]} fill="#000" />)}
      </g>
      <text x={left + 40.5} y={top + 30.5} fontFamily={FONT} fontSize={26} fill="#111">{panelLetters[idx]}</text>
      <rect x={left} y={top} width={PW} height={PH} fill="none" stroke={tickColor} strokeWidth={1.4} />
      {lonTicks.map(([lon, label]) => (
        <g key={lon}>
          <line x1={sx(lon)} x2={sx(lon)} y1={top + PH} y2={top + PH + 5} stroke={tickColor} strokeWidth={1.3} />
          {row === 2 && <text x={sx(lon)} y={top + PH + 23} textAnchor="middle" fontFamily={FONT} fontSize={TICK_FS} fill="#111">{label}</text>}
        </g>
      ))}
      {latTicks.map(([lat, label]) => (
        <g key={lat}>
          <line x1={left - 5} x2={left} y1={sy(lat)} y2={sy(lat)} stroke={tickColor} strokeWidth={1.3} />
          {col === 0 && <text x={left - 8} y={sy(lat) + 7} textAnchor="end" fontFamily={FONT} fontSize={TICK_FS} fill="#111">{label}</text>}
        </g>
      ))}
    </g>
  );
}

function ColorBar() {
  const sb = d3.scaleLinear().domain([-1.6, 1.6]).range([337.5, 928.5]);
  const T = 754, B = 787, M = (T + B) / 2;
  const bins = d3.range(-160, 160, 10);
  return (
    <g>
      <polygon points={`${sb(-1.6)},${T} ${sb(-1.6)},${B} 307.5,${M}`} fill="#053061" />
      <polygon points={`${sb(1.6)},${T} ${sb(1.6)},${B} 958,${M}`} fill="#67001f" />
      {bins.map(t => (
        <rect key={t} x={sb(t / 100)} y={T} width={sb((t + 10) / 100) - sb(t / 100) + 0.5} height={B - T} fill={binColor(t)} />
      ))}
      <polygon points={`307.5,${M} ${sb(-1.6)},${T} ${sb(1.6)},${T} 958,${M} ${sb(1.6)},${B} ${sb(-1.6)},${B}`} fill="none" stroke="#222" strokeWidth={1.2} />
      {d3.range(-160, 161, 10).map(t => (
        <line key={t} x1={sb(t / 100)} x2={sb(t / 100)} y1={B} y2={B + (t % 40 === 0 ? 7 : 4)} stroke="#222" strokeWidth={1.2} />
      ))}
      {barMajorTicks.map(v => (
        <text key={v} x={sb(v)} y={816} textAnchor="middle" fontFamily={FONT} fontSize={TICK_FS} fill="#111">
          {v < 0 ? `\u2212${Math.abs(v).toFixed(1)}` : v.toFixed(1)}
        </text>
      ))}
      <text x={633} y={842} textAnchor="middle" fontFamily={FONT} fontSize={TICK_FS} fill="#111">{'\u02DAC'}</text>
    </g>
  );
}

export default function App() {
  return (
    <div style={{ position: 'absolute', left: 0, top: 0, width: 1132, height: 847, overflow: 'hidden', background: '#fff' }}>
      <svg width={1132} height={847} style={{ display: 'block', filter: 'blur(0.55px)' }}>
        <rect width={1132} height={847} fill="#fff" />
        {columnTitles.map((t, i) => (
          <text key={t} x={panelLefts[i] + PW / 2} y={27} textAnchor="middle" fontFamily={FONT} fontSize={23.2} fill="#111">{t}</text>
        ))}
        {rowTitles.map((lines, r) => {
          const cy = panelTops[r] + PH / 2;
          return (
            <g key={r} transform={`translate(0,${cy}) rotate(-90)`}>
              <text x={0} y={26} textAnchor="middle" fontFamily={FONT} fontSize={19.6} fill="#111">{lines[0]}</text>
              <text x={0} y={48.5} textAnchor="middle" fontFamily={FONT} fontSize={19.6} fill="#111">{lines[1]}</text>
            </g>
          );
        })}
        {d3.range(9).map(i => <Panel key={i} idx={i} />)}
        <ColorBar />
      </svg>
    </div>
  );
}
